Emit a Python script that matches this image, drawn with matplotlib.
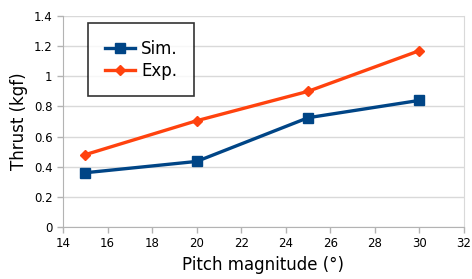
import matplotlib
matplotlib.use("Agg")
import matplotlib.pyplot as plt

# Thrust vs pitch magnitude
pitch = [15, 20, 25, 30]
thrust_sim = [0.36, 0.435, 0.725, 0.84]
thrust_exp = [0.48, 0.705, 0.9, 1.17]
x_ticks = [14, 16, 18, 20, 22, 24, 26, 28, 30, 32]
y_ticks = [0, 0.2, 0.4, 0.6, 0.8, 1.0, 1.2, 1.4]
y_labels = ["0", "0.2", "0.4", "0.6", "0.8", "1", "1.2", "1.4"]

plt.rcParams['font.family'] = 'DejaVu Sans'
fig = plt.figure(figsize=(4.72, 2.79), dpi=100)
ax = fig.add_axes([0.1335, 0.1864, 0.8495, 0.7563])

ax.plot(pitch, thrust_sim, color="#004586", lw=2.4, marker="s", ms=7, label="Sim.")
ax.plot(pitch, thrust_exp, color="#ff420e", lw=2.4, marker="D", ms=5, label="Exp.")

ax.set_xlim(14, 32)
ax.set_ylim(0, 1.4)
ax.set_xticks(x_ticks)
ax.set_yticks(y_ticks)
ax.set_yticklabels(y_labels)
ax.tick_params(labelsize=8.5, length=4, color="#b3b3b3", width=1)
ax.yaxis.grid(True, color="#d9d9d9", lw=1)
ax.set_axisbelow(True)
for side in ["left", "bottom"]:
    ax.spines[side].set_color("#b3b3b3")
ax.spines["right"].set_color("#d9d9d9")
ax.spines["top"].set_visible(False)

ax.set_xlabel("Pitch magnitude (°)", fontsize=12)
ax.set_ylabel("Thrust (kgf)", fontsize=12)

leg = ax.legend(loc="upper left", bbox_to_anchor=(0.062, 0.967), borderaxespad=0,
                fontsize=12, frameon=True, fancybox=False, edgecolor="black",
                handlelength=1.8, handletextpad=0.4, borderpad=1.0, labelspacing=0.25)
leg.get_frame().set_linewidth(1.2)

fig.savefig("out.png", dpi=100)
